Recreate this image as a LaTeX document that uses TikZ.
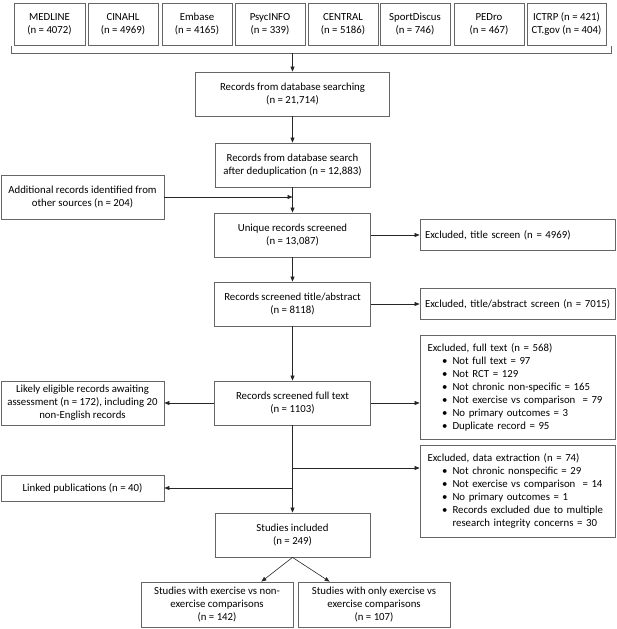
\documentclass[tikz,border=0pt]{standalone}
\usepackage{fontspec}
\setmainfont{Carlito}
\usepackage{tikz}
\usetikzlibrary{arrows.meta}
\usetikzlibrary{calc}
\newcommand{\exitem}{\makebox[25pt][r]{\textbullet\hspace{5pt}}}

\begin{document}
\begin{tikzpicture}[x=1pt,y=-1pt,
		box/.style={draw=black!60,line width=0.8pt,align=center,inner sep=3pt,font=\fontsize{10.8}{13}\selectfont},
		dbbox/.style={box,minimum width=70pt,minimum height=42pt},
		listbox/.style={box,align=left,text width=180pt,inner xsep=7.5pt,minimum width=195pt},
		exbox/.style={box,align=left,text width=185pt,inner xsep=5pt,minimum width=195pt,minimum height=31pt},
		flow/.style={draw=black!85,line width=0.6pt,-{Triangle[length=5pt,width=4pt]}}]
			\useasboundingbox (0,0) rectangle (616,629);
			\node[dbbox,minimum width=71pt] (medline) at (49.5,24) {MEDLINE\\(n = 4072)};
			\node[dbbox] (cinahl) at (123,24) {CINAHL\\(n = 4969)};
			\node[dbbox] (embase) at (197,24) {Embase\\(n = 4165)};
			\node[dbbox] (psycinfo) at (270,24) {PsycINFO\\(n = 339)};
			\node[dbbox] (central) at (343,24) {CENTRAL\\(n = 5186)};
			\node[dbbox] (sport) at (415,24) {SportDiscus\\(n = 746)};
			\node[dbbox] (pedro) at (489,24) {PEDro\\(n = 467)};
			\node[dbbox,minimum width=79pt] (ictrp) at (566.5,24) {ICTRP (n = 421)\\CT.gov (n = 404)};
			\draw[black!60,line width=0.8pt] (11,46) -- (11,53) -- (611,53) -- (611,46);
			\coordinate (brace) at (292.5,53);

			\node[box,minimum width=194pt,minimum height=44pt] (search) at (292.5,94) {Records from database searching\\(n = 21,714)};
			\node[box,minimum width=155pt,minimum height=44pt] (dedup) at (292.5,165) {Records from database search\\after deduplication (n = 12,883)};
			\node[box,minimum width=163pt,minimum height=44pt] (additional) at (82.5,197) {Additional records identified from\\other sources (n = 204)};
			\node[box,minimum width=156pt,minimum height=44pt] (unique) at (292.5,235) {Unique records screened\\(n = 13,087)};
			\node[exbox] (extitle) at (517.5,235) {Excluded, title screen (n = 4969)};
			\node[box,minimum width=156pt,minimum height=44pt] (abstract) at (292.5,304) {Records screened title/abstract\\(n = 8118)};
			\node[exbox] (exabs) at (517.5,304) {\mbox{Excluded, title/abstract screen (n = 7015)}};
			\node[box,minimum width=156pt,minimum height=44pt] (fulltext) at (292.5,403) {Records screened full text\\(n = 1103)};
			\node[box,minimum width=163pt,minimum height=44pt] (likely) at (82.5,403) {Likely eligible records awaiting\\assessment (n = 172), including 20\\non-English records};
			\node[listbox,minimum height=104pt] (exfull) at (517.5,387) {Excluded, full text (n = 568)\\
				\exitem Not full text = 97\\
				\exitem Not RCT = 129\\
				\exitem Not chronic non-specific = 165\\
				\exitem Not exercise vs comparison~~= 79\\
				\exitem No primary outcomes = 3\\
				\exitem Duplicate record = 95};
			\node[listbox,minimum height=92pt] (exdata) at (517.5,491) {Excluded, data extraction (n = 74)\\
				\exitem Not chronic nonspecific = 29\\
				\exitem Not exercise vs comparison~~= 14\\
				\exitem No primary outcomes = 1\\
				\exitem Records excluded due to multiple\\
				\hspace*{25pt}research integrity concerns = 30};
			\node[box,minimum width=163pt,minimum height=26pt] (linked) at (82.5,488) {Linked publications (n = 40)};
			\node[box,minimum width=155pt,minimum height=44pt] (included) at (292.5,535) {Studies included\\(n = 249)};
			\node[box,minimum width=152pt,minimum height=45pt] (withnon) at (217,604.5) {Studies with exercise vs non-\\exercise comparisons\\(n = 142)};
			\node[box,minimum width=152pt,minimum height=45pt] (onlyex) at (374,604.5) {Studies with only exercise vs\\exercise comparisons\\(n = 107)};

			\coordinate (split) at (292.5,468);
			\draw[flow] (brace) -- (search.north);
			\draw[flow] (search) -- (dedup);
			\draw[flow] (dedup) -- (unique);
			\draw[flow] (additional.east) -- (additional.east -| unique.north);
			\draw[flow] (unique) -- (extitle);
			\draw[flow] (unique) -- (abstract);
			\draw[flow] (abstract) -- (exabs);
			\draw[flow] (abstract) -- (fulltext);
			\draw[flow] (fulltext.east) -- (fulltext.east -| exfull.west);
			\draw[flow] (fulltext) -- (likely);
			\draw[flow] (fulltext) -- (included);
			\draw[flow] (split) -- (split -| exdata.west);
			\draw[flow] (linked.east -| fulltext.south) -- (linked.east);
			\draw[flow] (included.south) -- ($(withnon.north east)+(-32,0)$);
			\draw[flow] (included.south) -- ($(onlyex.north west)+(32,0)$);
		\end{tikzpicture}
\end{document}
